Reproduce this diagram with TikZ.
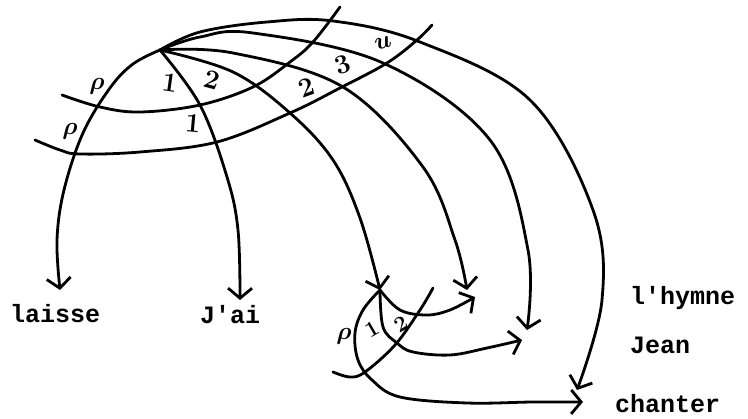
\documentclass[tikz,border=0pt]{standalone}
\usepackage{fontspec}
\usepackage{amsmath}
\newfontfamily\tw{Liberation Mono}
\usetikzlibrary{arrows.meta}
\begin{document}
\begin{tikzpicture}[x=1pt,y=-1pt, line cap=round, line join=round,
  arc/.style={line width=2.8pt},
  arr/.style={arc, -{Straight Barb[length=10pt,width=24pt,line width=2.8pt]}},
  word/.style={font=\tw\bfseries\fontsize{25}{25}\selectfont, inner sep=0pt, anchor=base west},
  hand/.style={font=\bfseries\fontsize{27}{27}\selectfont, inner sep=0pt},
  smallhand/.style={font=\bfseries\fontsize{22}{22}\selectfont, inner sep=0pt}]
\useasboundingbox (0,0) rectangle (748,419);
% words
\node[word] (laisse) at (10,323) {laisse};
\node[word] (jai) at (200,324) {J'ai};
\node[word] (hymne) at (630,305) {l'hymne};
\node[word] (jean) at (630,354) {Jean};
\node[word] (chanter) at (615,413) {chanter};
% key points
\coordinate (O) at (160,50);
\coordinate (tL) at (60,290);
\coordinate (tJ) at (240,300);
\coordinate (P) at (380,290);
\coordinate (t4) at (467,290);
\coordinate (t5) at (527,330);
\coordinate (t6) at (577,390);
\coordinate (t7) at (475,297);
\coordinate (t8) at (522,340);
\coordinate (t9) at (583,402);
\coordinate (s1a) at (62,95);
\coordinate (s1b) at (340,7);
\coordinate (s2a) at (35,140);
\coordinate (s2b) at (432,25);
\coordinate (s3a) at (333,372);
\coordinate (s3b) at (433,288);
% main arcs
\draw[arr] plot[smooth,tension=0.6] coordinates {(O) (133,64) (110,88) (83,133) (64,190) (57,240) (tL)};
\draw[arr] plot[smooth,tension=0.6] coordinates {(O) (200,105) (227,177) (238,230) (tJ)};
\draw[arr] plot[smooth,tension=0.6] coordinates {(O) (233,72) (290,113) (333,160) (360,218) (P)};
\draw[arr] plot[smooth,tension=0.6] coordinates {(O) (233,53) (343,87) (423,167) (455,240) (t4)};
\draw[arr] plot[smooth,tension=0.6] coordinates {(O) (200,37) (253,33) (383,63) (490,140) (528,250) (t5)};
\draw[arr] plot[smooth,tension=0.6] coordinates {(O) (200,32) (267,22) (333,21) (420,42) (530,100) (593,210) (602,300) (t6)};
% strips
\draw[arc] plot[smooth,tension=0.6] coordinates {(s1a) (100,107) (140,112) (200,105) (253,87) (290,62) (313,42) (s1b)};
\draw[arc] plot[smooth,tension=0.6] coordinates {(s2a) (60,150) (80,154) (140,152) (217,142) (290,113) (340,88) (387,63) (417,40) (s2b)};
% lower structure
\draw[arr] plot[smooth,tension=0.6] coordinates {(P) (400,310) (427,315) (450,310) (t7)};
\draw[arr] plot[smooth,tension=0.6] coordinates {(P) (383,327) (397,343) (413,352) (450,355) (487,348) (t8)};
\draw[arr] plot[smooth,tension=0.6] coordinates {(P) (363,310) (355,333) (358,360) (372,380) (400,397) (467,403) (533,402) (t9)};
\draw[arc] plot[smooth,tension=0.6] coordinates {(s3a) (350,377) (365,372) (395,345) (420,310) (s3b)};
% labels
\node[hand] (r1) at (97,86) {$\boldsymbol{\rho}$};
\node[hand] (r2) at (70,131) {$\boldsymbol{\rho}$};
\node[hand,rotate=-8] (a1) at (170,83) {1};
\node[hand,rotate=-15] (a2) at (212,80) {2};
\node[hand,rotate=-5] (b1) at (193,123) {1};
\node[hand,rotate=20] (b2) at (307,88) {2};
\node[hand,rotate=20] (a3) at (343,65) {3};
\node[hand,rotate=15] (au) at (383,43) {$\boldsymbol{u}$};
\node[hand] (r3) at (344,336) {$\boldsymbol{\rho}$};
\node[smallhand,rotate=30] (c1) at (372,329) {1};
\node[smallhand,rotate=30] (c2) at (401,324) {2};
\end{tikzpicture}
\end{document}
